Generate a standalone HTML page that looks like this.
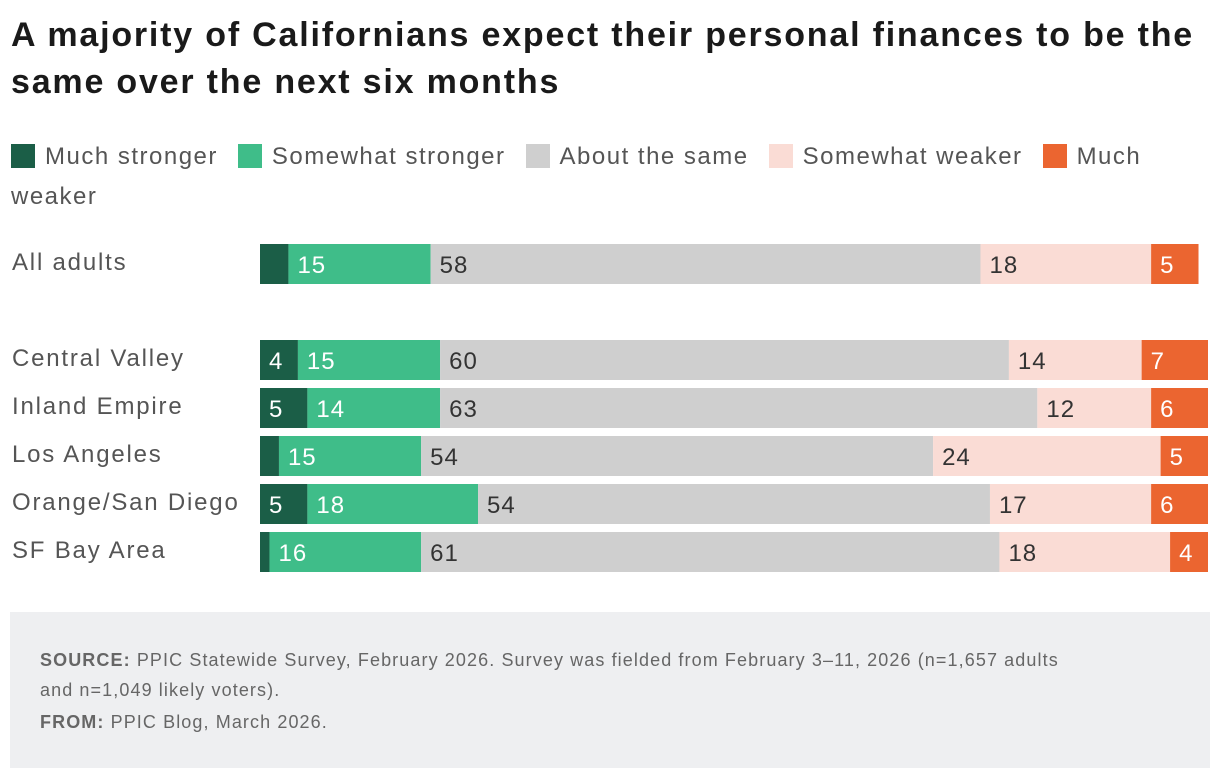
<!DOCTYPE html>
<html><head><meta charset="utf-8"><style>
body{margin:0;width:1220px;height:778px;background:#fff;font-family:"Liberation Sans",Arial,sans-serif;position:relative;overflow:hidden}
h1{position:absolute;left:11px;top:12px;margin:0;font-size:34px;letter-spacing:1.8px;line-height:47px;font-weight:bold;color:#1a1a1a;width:1205px}
#legend{position:absolute;left:11px;top:137px;width:1180px;font-size:24px;letter-spacing:1.5px;line-height:40px;color:#555}
.li{display:inline-block;margin-right:20px}
.li:last-child{display:inline;margin-right:0}
.sw{display:inline-block;width:24px;height:24px;vertical-align:-4px;margin-right:10px}
.src{position:absolute;left:10px;top:612px;width:1200px;height:156px;background:#eeeff1}
.src p{margin:0;position:absolute;left:30px;font-size:18px;letter-spacing:1.1px;line-height:30px;color:#666;width:1040px}
</style></head><body>
<h1>A majority of Californians expect their personal finances to be the same over the next six months</h1>
<div id="legend"></div>
<svg id="chart" width="1220" height="600" style="position:absolute;left:0;top:0"></svg>
<div class="src">
<p style="top:33px"><b>SOURCE:</b> PPIC Statewide Survey, February 2026. Survey was fielded from February 3–11, 2026 (n=1,657 adults and n=1,049 likely voters).</p>
<p style="top:95px"><b>FROM:</b> PPIC Blog, March 2026.</p>
</div>
<script>
const categories=["All adults","Central Valley","Inland Empire","Los Angeles","Orange/San Diego","SF Bay Area"];
const seriesNames=["Much stronger","Somewhat stronger","About the same","Somewhat weaker","Much weaker"];
const muchStronger=[3,4,5,2,5,1];
const somewhatStronger=[15,15,14,15,18,16];
const aboutSame=[58,60,63,54,54,61];
const somewhatWeaker=[18,14,12,24,17,18];
const muchWeaker=[5,7,6,5,6,4];
const colors=["#1b5e47","#3fbd89","#cfcfcf","#fadcd5","#eb6530"];
const textColors=["#fff","#fff","#333","#333","#fff"];
const series=[muchStronger,somewhatStronger,aboutSame,somewhatWeaker,muchWeaker];
const x0=260,scale=9.48;
const xs=v=>x0+v*scale;
const rowY=i=>i===0?244:340+(i-1)*48;
const svg=document.getElementById('chart');
const NS='http://www.w3.org/2000/svg';
const lg=document.getElementById('legend');
seriesNames.forEach((n,k)=>{
  const s=document.createElement('span');s.className='li';
  
  
  s.innerHTML='<span class="sw" style="background:'+colors[k]+'"></span>'+n;
  lg.appendChild(s);
});
categories.forEach((c,i)=>{
  const y=rowY(i);
  const t=document.createElementNS(NS,'text');
  t.setAttribute('x',12);t.setAttribute('y',y+26);
  t.setAttribute('font-size','24');t.setAttribute('fill','#555');
  t.setAttribute('letter-spacing','1.8');
  
  
  t.textContent=c;svg.appendChild(t);
  let cum=0;
  series.forEach((arr,k)=>{
    const v=arr[i];
    const r=document.createElementNS(NS,'rect');
    r.setAttribute('x',xs(cum));r.setAttribute('y',y);
    r.setAttribute('width',v*scale);r.setAttribute('height',40);
    r.setAttribute('fill',colors[k]);
    
    
    svg.appendChild(r);
    if(v>=4){
      const l=document.createElementNS(NS,'text');
      l.setAttribute('x',xs(cum)+9);l.setAttribute('y',y+29);
      l.setAttribute('font-size','24');l.setAttribute('fill',textColors[k]);
      l.setAttribute('letter-spacing','1');
      
      
      l.textContent=v;svg.appendChild(l);
    }
    cum+=v;
  });
});
</script>
</body></html>
